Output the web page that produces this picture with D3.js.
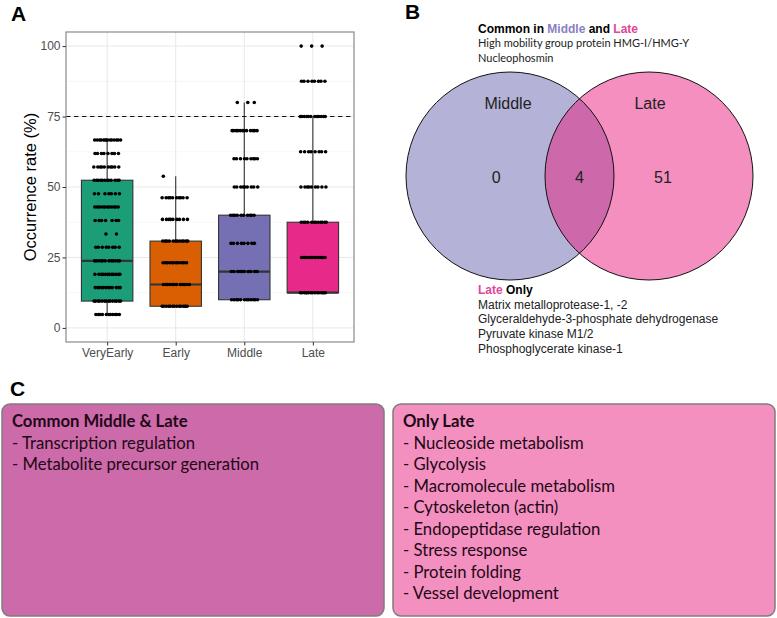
<!DOCTYPE html>
<html>
<head>
<meta charset="utf-8">
<script src="https://d3js.org/d3.v7.min.js"></script>
<style>
  body { margin: 0; background: #fff; }
</style>
</head>
<body>
<div id="fig"></div>
<script>
    // ---- data ----
    const categories = ["VeryEarly", "Early", "Middle", "Late"];
    const boxColors = ["#1b9e77", "#d95f02", "#7570b3", "#e7298a"];
    // [lower whisker, q1, median, q3, upper whisker]
    const boxStats = [
        [4.76, 9.52, 23.8, 52.4, 66.7],
        [7.69, 7.69, 15.4, 30.8, 53.8],
        [10, 10, 20, 40, 80],
        [12.5, 12.5, 12.5, 37.5, 75]
    ];
    // occurrence levels and how many proteins sit on each
    const veryEarlyLevels = [4.76, 9.52, 14.3, 19.0, 23.8, 28.6, 33.3, 38.1, 42.9, 47.6, 52.4, 57.1, 61.9, 66.7];
    const veryEarlyCounts = [11, 14, 12, 12, 12, 8, 2, 7, 12, 7, 12, 10, 8, 14];
    const earlyLevels = [7.69, 15.4, 23.1, 30.8, 38.5, 46.2, 53.8];
    const earlyCounts = [14, 12, 12, 12, 9, 10, 1];
    const middleLevels = [10, 20, 30, 40, 50, 60, 70, 80];
    const middleCounts = [12, 10, 8, 10, 9, 9, 12, 3];
    const lateLevels = [12.5, 25, 37.5, 50, 62.5, 75, 87.5, 100];
    const lateCounts = [15, 12, 12, 9, 8, 12, 8, 3];
    const yTicks = [0, 25, 50, 75, 100];
    const threshold = 75;

    const vennSets = ["Middle", "Late"];
    const vennCounts = [0, 4, 51];   // Middle only, both, Late only
    const commonProteins = ["High mobility group protein HMG-I/HMG-Y", "Nucleophosmin"];
    const lateOnlyProteins = ["Matrix metalloprotease-1, -2", "Glyceraldehyde-3-phosphate dehydrogenase",
        "Pyruvate kinase M1/2", "Phosphoglycerate kinase-1"];

    const commonTerms = ["Transcription regulation", "Metabolite precursor generation"];
    const lateTerms = ["Nucleoside metabolism", "Glycolysis", "Macromolecule metabolism", "Cytoskeleton (actin)",
        "Endopeptidase regulation", "Stress response", "Protein folding", "Vessel development"];

    const groupLevels = [veryEarlyLevels, earlyLevels, middleLevels, lateLevels];
    const groupCounts = [veryEarlyCounts, earlyCounts, middleCounts, lateCounts];

    var svg = d3.select("#fig").append("svg")
        .attr("width", 777).attr("height", 618)
        .style("font-family", "Liberation Sans, Arial, sans-serif");

    svg.append("rect").attr("width", 777).attr("height", 618).attr("fill", "#fff");

    // ---- panel A ----
    let panel = {left: 66, right: 354, top: 32, bottom: 342};

    var xScale = d3.scalePoint().domain(categories).range([panel.left, panel.right]).padding(0.6),
        yScale = d3.scaleLinear().domain([-5, 105]).range([panel.bottom, panel.top]);
    let step = xScale.step();

    var a = svg.append("g");

    // minor grid
    a.selectAll(".minor")
        .data(d3.range(0, 4).map(i => yTicks[i] + 12.5))
        .enter().append("line")
        .attr("x1", panel.left).attr("x2", panel.right)
        .attr("y1", d => yScale(d)).attr("y2", d => yScale(d))
        .attr("stroke", "#f0f0f0").attr("stroke-width", 0.6);
    // major grid
    a.selectAll(".hmajor")
        .data(yTicks).enter().append("line")
        .attr("x1", panel.left).attr("x2", panel.right)
        .attr("y1", d => yScale(d)).attr("y2", d => yScale(d))
        .attr("stroke", "#e8e8e8").attr("stroke-width", 1);
    a.selectAll(".vmajor")
        .data(categories).enter().append("line")
        .attr("x1", d => xScale(d)).attr("x2", d => xScale(d))
        .attr("y1", panel.top).attr("y2", panel.bottom)
        .attr("stroke", "#e8e8e8").attr("stroke-width", 1);

    // boxes
    let boxW = step * 0.75;
    categories.forEach(function(c, i) {
        let s = boxStats[i], cx = xScale(c);
        let g = a.append("g");
        g.append("line").attr("x1", cx).attr("x2", cx)
            .attr("y1", yScale(s[3])).attr("y2", yScale(s[4]))
            .attr("stroke", "#333").attr("stroke-width", 1.1);
        g.append("line").attr("x1", cx).attr("x2", cx)
            .attr("y1", yScale(s[1])).attr("y2", yScale(s[0]))
            .attr("stroke", "#333").attr("stroke-width", 1.1);
        g.append("rect")
            .attr("x", cx - boxW / 2).attr("width", boxW)
            .attr("y", yScale(s[3])).attr("height", yScale(s[1]) - yScale(s[3]))
            .attr("fill", boxColors[i]).attr("stroke", "#333").attr("stroke-width", 1.1);
        g.append("line").attr("x1", cx - boxW / 2).attr("x2", cx + boxW / 2)
            .attr("y1", yScale(s[2])).attr("y2", yScale(s[2]))
            .attr("stroke", "#333").attr("stroke-width", 2.2);
    });

    // dashed threshold
    a.append("line")
        .attr("x1", panel.left).attr("x2", panel.right)
        .attr("y1", yScale(threshold)).attr("y2", yScale(threshold))
        .attr("stroke", "#111").attr("stroke-width", 1.1)
        .attr("stroke-dasharray", "4.5,3.5");

    // jittered points (deterministic spread)
    let pts = [];
    categories.forEach(function(c, i) {
        groupLevels[i].forEach(function(v, j) {
            let n = groupCounts[i][j];
            for (let k = 0; k < n; k++) {
                let f = ((k + 1) * 0.6180339 + j * 0.37 + i * 0.21) % 1;
                pts.push({cat: c, v: v, off: (f - 0.5) * 2 * 0.2 * step});
            }
        });
    });
    a.selectAll("circle.pt")
        .data(pts).enter().append("circle")
        .attr("cx", d => xScale(d.cat) + d.off)
        .attr("cy", d => yScale(d.v))
        .attr("r", 1.8)
        .attr("fill", "#000");

    // border
    a.append("rect")
        .attr("x", panel.left).attr("y", panel.top)
        .attr("width", panel.right - panel.left).attr("height", panel.bottom - panel.top)
        .attr("fill", "none").attr("stroke", "#8a8a8a").attr("stroke-width", 1.2);

    // axes
    a.append("g")
        .attr("transform", "translate(" + panel.left + ",0)")
        .call(d3.axisLeft(yScale).tickValues(yTicks).tickSize(3.5).tickPadding(2))
        .call(g => g.select(".domain").remove())
        .call(g => g.selectAll("line").attr("stroke", "#333"))
        .call(g => g.selectAll("text").attr("fill", "#4d4d4d")
            .style("font-size", "12px").style("font-family", "Liberation Sans, Arial, sans-serif"));
    a.append("g")
        .attr("transform", "translate(0," + panel.bottom + ")")
        .call(d3.axisBottom(xScale).tickSize(3.5).tickPadding(3))
        .call(g => g.select(".domain").remove())
        .call(g => g.selectAll("line").attr("stroke", "#333"))
        .call(g => g.selectAll("text").attr("fill", "#4d4d4d")
            .style("font-size", "12px").style("font-family", "Liberation Sans, Arial, sans-serif"));

    // y title
    a.append("text")
        .attr("transform", "translate(36," + ((panel.top + panel.bottom) / 2) + ") rotate(-90)")
        .attr("text-anchor", "middle")
        .style("font-size", "16.5px")
        .text("Occurrence rate (%)");

    // panel letters
    [["A", 11, 21], ["B", 405, 19], ["C", 10, 396]].forEach(function(l) {
        svg.append("text").attr("x", l[1]).attr("y", l[2])
            .style("font-size", "21px").style("font-weight", "bold")
            .text(l[0]);
    });

    // ---- panel B: venn ----
    let r = 104, cy = 176;
    let vx = d3.scaleLinear().domain([0, 1]).range([510, 649]);
    let vennFill = ["#b4b3d7", "#f48fbf"];

    let defs = svg.append("defs");
    defs.append("clipPath").attr("id", "clipL")
        .append("circle").attr("cx", vx(0)).attr("cy", cy).attr("r", r);

    vennSets.forEach(function(s, i) {
        svg.append("circle").attr("cx", vx(i)).attr("cy", cy).attr("r", r)
            .attr("fill", vennFill[i]);
    });
    svg.append("circle").attr("cx", vx(1)).attr("cy", cy).attr("r", r)
        .attr("clip-path", "url(#clipL)")
        .attr("fill", "#cd69aa");
    vennSets.forEach(function(s, i) {
        svg.append("circle").attr("cx", vx(i)).attr("cy", cy).attr("r", r)
            .attr("fill", "none").attr("stroke", "#111").attr("stroke-width", 1);
        svg.append("text").attr("x", vx(i) - 2 + i * 3).attr("y", 109)
            .attr("text-anchor", "middle").attr("fill", "#222")
            .style("font-size", "16px").text(s);
    });
    [[-0.1, vennCounts[0]], [0.5, vennCounts[1]], [1.1, vennCounts[2]]].forEach(function(d) {
        svg.append("text").attr("x", vx(d[0])).attr("y", 183)
            .attr("text-anchor", "middle").attr("fill", "#222")
            .style("font-size", "16px").text(d[1]);
    });

    // venn annotations
    let head = svg.append("text").attr("x", 478).attr("y", 33)
        .style("font-size", "12px").style("font-weight", "bold");
    head.append("tspan").text("Common in ");
    head.append("tspan").attr("fill", "#8a80c2").text("Middle");
    head.append("tspan").text(" and ");
    head.append("tspan").attr("fill", "#e0469c").text("Late");
    commonProteins.forEach(function(p, i) {
        svg.append("text").attr("x", 478).attr("y", 47 + i * 14.5)
            .style("font-family", "Lato, sans-serif").style("font-size", "11px")
            .attr("fill", "#222").text(p);
    });

    let head2 = svg.append("text").attr("x", 478).attr("y", 294)
        .style("font-size", "12px").style("font-weight", "bold");
    head2.append("tspan").attr("fill", "#e0469c").text("Late");
    head2.append("tspan").text(" Only");
    lateOnlyProteins.forEach(function(p, i) {
        svg.append("text").attr("x", 478).attr("y", 308.5 + i * 14.7)
            .style("font-size", "12px").attr("fill", "#222").text(p);
    });

    // ---- panel C ----
    let boxes = [
        {x: 2, title: "Common Middle & Late", terms: commonTerms, fill: "#cd6aaa"},
        {x: 393, title: "Only Late", terms: lateTerms, fill: "#f490c0"}
    ];
    boxes.forEach(function(b) {
        svg.append("rect").attr("x", b.x).attr("y", 404)
            .attr("width", 382).attr("height", 212)
            .attr("rx", 8).attr("ry", 8)
            .attr("fill", b.fill).attr("stroke", "#7d7d7d").attr("stroke-width", 1.5);
        let t = svg.append("g").style("font-family", "Lato, sans-serif").style("font-size", "16.7px");
        t.append("text").attr("x", b.x + 10).attr("y", 427)
            .style("font-weight", "bold").attr("fill", "#1e0816").text(b.title);
        b.terms.forEach(function(term, i) {
            t.append("text").attr("x", b.x + 10).attr("y", 448.5 + i * 21.5)
                .attr("fill", "#1e0816").text("- " + term);
        });
    });
</script>
</body>
</html>
